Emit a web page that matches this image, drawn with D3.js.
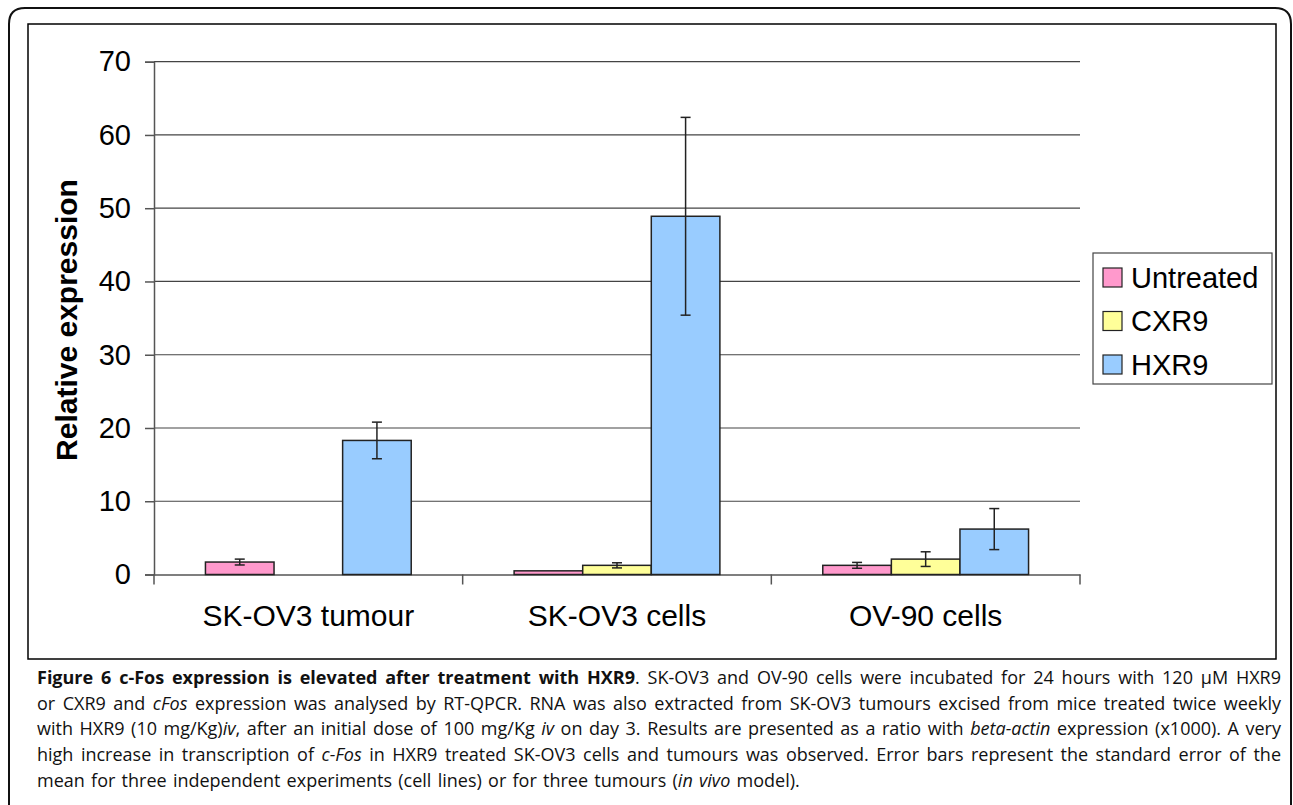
<!DOCTYPE html>
<html>
<head>
<meta charset="utf-8">
<script src="https://d3js.org/d3.v7.min.js"></script>
<style>
body {
  margin: 0;
  background: #fff;
  font-family: "Liberation Sans", Arial, sans-serif;
}
#caption {
  position: absolute;
  left: 37px;
  top: 665px;
  width: 1244px;
  font-family: "Open Sans", sans-serif;
  font-size: 18px;
  line-height: 25.7px;
  color: #111;
}
#caption div { text-align: justify; text-align-last: justify; white-space: nowrap; }
#caption div.last { text-align-last: left; word-spacing: 1.6px; }
</style>
</head>
<body>
<svg id="chart" width="1293" height="805" style="position:absolute;left:0;top:0"></svg>
<div id="caption">
  <div><b>Figure 6 c-Fos expression is elevated after treatment with HXR9</b>. SK-OV3 and OV-90 cells were incubated for 24 hours with 120 μM HXR9</div>
  <div>or CXR9 and <i>cFos</i> expression was analysed by RT-QPCR. RNA was also extracted from SK-OV3 tumours excised from mice treated twice weekly</div>
  <div>with HXR9 (10 mg/Kg)<i>iv</i>, after an initial dose of 100 mg/Kg <i>iv</i> on day 3. Results are presented as a ratio with <i>beta-actin</i> expression (x1000). A very</div>
  <div>high increase in transcription of <i>c-Fos</i> in HXR9 treated SK-OV3 cells and tumours was observed. Error bars represent the standard error of the</div>
  <div class="last">mean for three independent experiments (cell lines) or for three tumours (<i>in vivo</i> model).</div>
</div>
<script>
// data
var categories = ["SK-OV3 tumour", "SK-OV3 cells", "OV-90 cells"];
var series = ["Untreated", "CXR9", "HXR9"];
var colors = ["#ff99cc", "#ffff99", "#99ccff"];
var untreated = [1.7, 0.5, 1.25];
var untreatedErr = [0.4, 0, 0.4];
var cxr9 = [null, 1.25, 2.1];
var cxr9Err = [null, 0.35, 1.0];
var hxr9 = [18.3, 48.9, 6.2];
var hxr9Err = [2.5, 13.5, 2.8];
var yTicks = [0, 10, 20, 30, 40, 50, 60, 70];

var values = [untreated, cxr9, hxr9];
var errors = [untreatedErr, cxr9Err, hxr9Err];

var svg = d3.select("#chart");

// outer rounded frame and inner chart frame
svg.append("path")
  .attr("d", "M9,820 L9,24 Q9,8 25,8 L1275,8 Q1291,8 1291,24 L1291,820")
  .attr("fill", "none").attr("stroke", "#111").attr("stroke-width", 2);
svg.append("rect")
  .attr("x", 28).attr("y", 24).attr("width", 1248).attr("height", 635)
  .attr("fill", "none").attr("stroke", "#000").attr("stroke-width", 1.5);

var left = 154, right = 1080;
var y = d3.scaleLinear().domain([0, 70]).range([574.5, 61.7]);
var x0 = d3.scaleBand().domain(categories).range([left, right]);
var x1 = d3.scaleBand().domain(series).range([0, x0.bandwidth()])
  .paddingInner(0).paddingOuter(0.75);

// gridlines
svg.append("g").selectAll("line")
  .data(yTicks.filter(function(d) { return d > 0; }))
  .enter().append("line")
    .attr("x1", left).attr("x2", right)
    .attr("y1", function(d) { return y(d); })
    .attr("y2", function(d) { return y(d); })
    .attr("stroke", "#444").attr("stroke-width", 1.2);

// y axis
var yAxis = svg.append("g")
  .attr("transform", "translate(" + left + ",0)")
  .call(d3.axisLeft(y).tickValues(yTicks).tickSize(9).tickPadding(14));
yAxis.select(".domain").attr("stroke", "#555").attr("stroke-width", 1.5);
yAxis.selectAll(".tick line").attr("stroke", "#555").attr("stroke-width", 1.5);
yAxis.selectAll(".tick text")
  .attr("font-family", "Liberation Sans, Arial, sans-serif")
  .attr("font-size", 29).attr("fill", "#000");

// x axis
var xAxis = svg.append("g")
  .attr("transform", "translate(0," + y(0) + ")")
  .call(d3.axisBottom(x0).tickSize(0).tickPadding(30));
xAxis.select(".domain").attr("stroke", "#555").attr("stroke-width", 1.5);
xAxis.selectAll(".tick text")
  .attr("font-family", "Liberation Sans, Arial, sans-serif")
  .attr("font-size", 30).attr("fill", "#000");
xAxis.selectAll(".sep")
  .data(categories.concat(["end"]))
  .enter().append("line")
    .attr("class", "sep")
    .attr("x1", function(d, i) { return i < categories.length ? x0(d) : right; })
    .attr("x2", function(d, i) { return i < categories.length ? x0(d) : right; })
    .attr("y1", 0).attr("y2", 10)
    .attr("stroke", "#555").attr("stroke-width", 1.5);

// y title
svg.append("text")
  .attr("transform", "translate(77,320) rotate(-90)")
  .attr("text-anchor", "middle")
  .attr("font-family", "Liberation Sans, Arial, sans-serif")
  .attr("font-weight", "bold").attr("font-size", 30)
  .text("Relative expression");

// bars
var bars = [];
categories.forEach(function(c, ci) {
  series.forEach(function(s, si) {
    if (values[si][ci] != null) {
      bars.push({cat: c, s: s, si: si, v: values[si][ci], e: errors[si][ci]});
    }
  });
});

svg.append("g").selectAll("rect")
  .data(bars)
  .enter().append("rect")
    .attr("x", function(d) { return x0(d.cat) + x1(d.s); })
    .attr("y", function(d) { return y(d.v); })
    .attr("width", x1.bandwidth())
    .attr("height", function(d) { return y(0) - y(d.v); })
    .attr("fill", function(d) { return colors[d.si]; })
    .attr("stroke", "#222").attr("stroke-width", 1.5);

// error bars
var eb = svg.append("g").attr("stroke", "#222").attr("stroke-width", 1.5);
var withErr = bars.filter(function(d) { return d.e; });
eb.selectAll(".v").data(withErr).enter().append("line")
  .attr("x1", function(d) { return x0(d.cat) + x1(d.s) + x1.bandwidth() / 2; })
  .attr("x2", function(d) { return x0(d.cat) + x1(d.s) + x1.bandwidth() / 2; })
  .attr("y1", function(d) { return y(d.v + d.e); })
  .attr("y2", function(d) { return y(d.v - d.e); });
[1, -1].forEach(function(sign) {
  eb.selectAll(".c" + sign).data(withErr).enter().append("line")
    .attr("x1", function(d) { return x0(d.cat) + x1(d.s) + x1.bandwidth() / 2 - 5; })
    .attr("x2", function(d) { return x0(d.cat) + x1(d.s) + x1.bandwidth() / 2 + 5; })
    .attr("y1", function(d) { return y(d.v + sign * d.e); })
    .attr("y2", function(d) { return y(d.v + sign * d.e); });
});

// legend
var legend = svg.append("g");
legend.append("rect")
  .attr("x", 1093).attr("y", 253).attr("width", 179).attr("height", 131)
  .attr("fill", "#fff").attr("stroke", "#444").attr("stroke-width", 1.2);
var item = legend.selectAll(".item").data(series).enter().append("g")
  .attr("transform", function(d, i) { return "translate(1103," + (277.5 + i * 43.5) + ")"; });
item.append("rect")
  .attr("x", 0).attr("y", -9.5).attr("width", 19).attr("height", 19)
  .attr("fill", function(d, i) { return colors[i]; })
  .attr("stroke", "#222").attr("stroke-width", 1.2);
item.append("text")
  .attr("x", 28).attr("y", 0).attr("dy", "0.35em")
  .attr("font-family", "Liberation Sans, Arial, sans-serif")
  .attr("font-size", 29)
  .text(function(d) { return d; });
</script>
</body>
</html>
